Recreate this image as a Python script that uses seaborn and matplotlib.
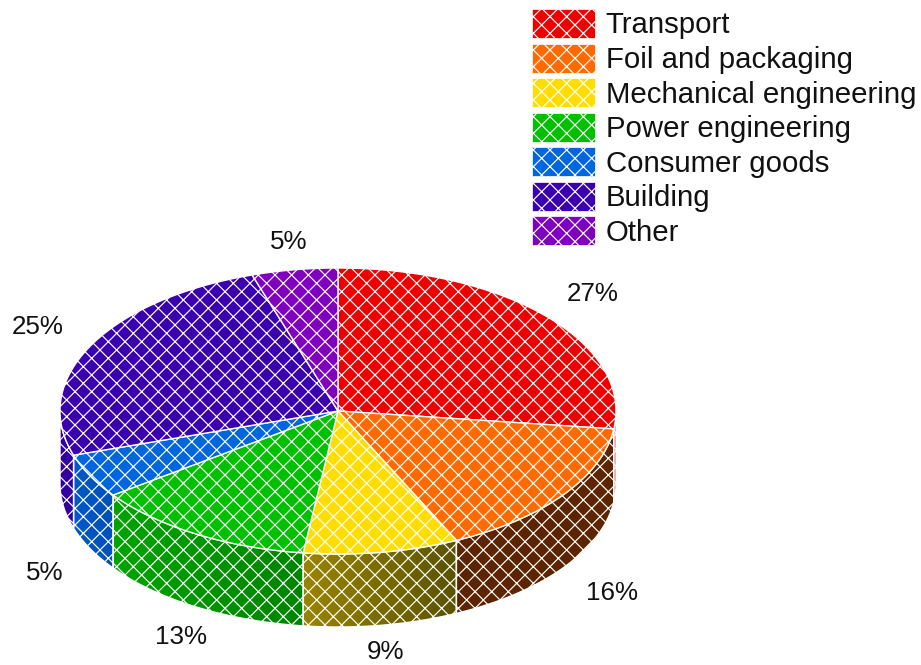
import numpy as np
import matplotlib
matplotlib.use('Agg')
import matplotlib.pyplot as plt
from matplotlib.colors import LinearSegmentedColormap
from matplotlib.patches import Patch, Polygon
import seaborn as sns

# data
sectors = ['Transport', 'Foil and packaging', 'Mechanical engineering', 'Power engineering',
           'Consumer goods', 'Building', 'Other']
shares = [27, 16, 9, 13, 5, 25, 5]

# colours, top of the pie and left/right of the side wall
top_colors = ['#ee0000', '#ff6a00', '#ffdd00', '#00c000', '#0066dd', '#3a00b0', '#8000c0']
wall_left = ['#b00000', '#5c2400', '#9a8400', '#00a400', '#0058c8', '#3300a0', '#6a00a0']
wall_right = ['#b00000', '#5c2400', '#5a5200', '#008400', '#0050b8', '#3300a0', '#6a00a0']

# label centres in picture pixels
label_xy = [(593, 294), (612, 593), (385, 652), (181, 637), (45, 573), (38, 327), (289, 242)]

# pie geometry in picture pixels
cx, cy = 338, 411
rx, ry = 278, 143
depth = 73
DPI = 100

sns.set_theme(style='white')
plt.rcParams['font.family'] = ['Liberation Sans', 'DejaVu Sans']
plt.rcParams['hatch.linewidth'] = 0.85
plt.rcParams['hatch.color'] = 'white'
palette = sns.color_palette(top_colors)


def rim(t):
    return cx + rx * np.sin(t), cy - ry * np.cos(t)


fig = plt.figure(figsize=(921 / DPI, 665 / DPI), dpi=DPI)
ax = fig.add_axes([0, 0, 1, 1])

edges = np.radians(np.cumsum([0] + shares) / sum(shares) * 360)

# side walls first, only the front half of the disc has one
for i in range(len(shares)):
    t0 = max(edges[i], np.pi / 2)
    t1 = min(edges[i + 1], 3 * np.pi / 2)
    if t1 <= t0:
        continue
    t = np.linspace(t0, t1, 80)
    x, y = rim(t)
    pts = np.column_stack([np.r_[x, x[::-1]], np.r_[y, y[::-1] + depth]])
    # x falls as the angle grows on the front half
    cmap = LinearSegmentedColormap.from_list('wall', [wall_left[i], wall_right[i]])
    shade = np.linspace(0, 1, 128).reshape(1, -1)
    im = ax.imshow(shade, cmap=cmap, aspect='auto', zorder=1,
                   extent=[x.min(), x.max(), pts[:, 1].max(), pts[:, 1].min()])
    clip = Polygon(pts, closed=True, transform=ax.transData)
    im.set_clip_path(clip)
    ax.add_patch(Polygon(pts, closed=True, facecolor='none', edgecolor='white',
                         hatch='xx', linewidth=1.0, zorder=2))

# top of the pie
for i in range(len(shares)):
    t = np.linspace(edges[i], edges[i + 1], 120)
    x, y = rim(t)
    pts = np.column_stack([np.r_[cx, x], np.r_[cy, y]])
    ax.add_patch(Polygon(pts, closed=True, facecolor=palette[i], edgecolor='white',
                         hatch='xx', linewidth=1.0, zorder=3))

for share, (lx, ly) in zip(shares, label_xy):
    ax.text(lx, ly, f'{share}%', fontsize=18.7, color='#111111', ha='center', va='center')

handles = [Patch(facecolor=palette[i], edgecolor='white', hatch='xx', linewidth=0.5)
           for i in range(len(shares))]
ax.legend(handles, sectors, loc='upper left', bbox_to_anchor=(532 / 921, 1 - 9 / 665),
          frameon=False, fontsize=21.15, handlelength=2.14, handleheight=1.14,
          handletextpad=0.37, labelspacing=0.14, borderpad=0, borderaxespad=0,
          labelcolor='#111111')

ax.set_xlim(0, 921)
ax.set_ylim(665, 0)
ax.axis('off')

fig.savefig('out.png', dpi=DPI)
